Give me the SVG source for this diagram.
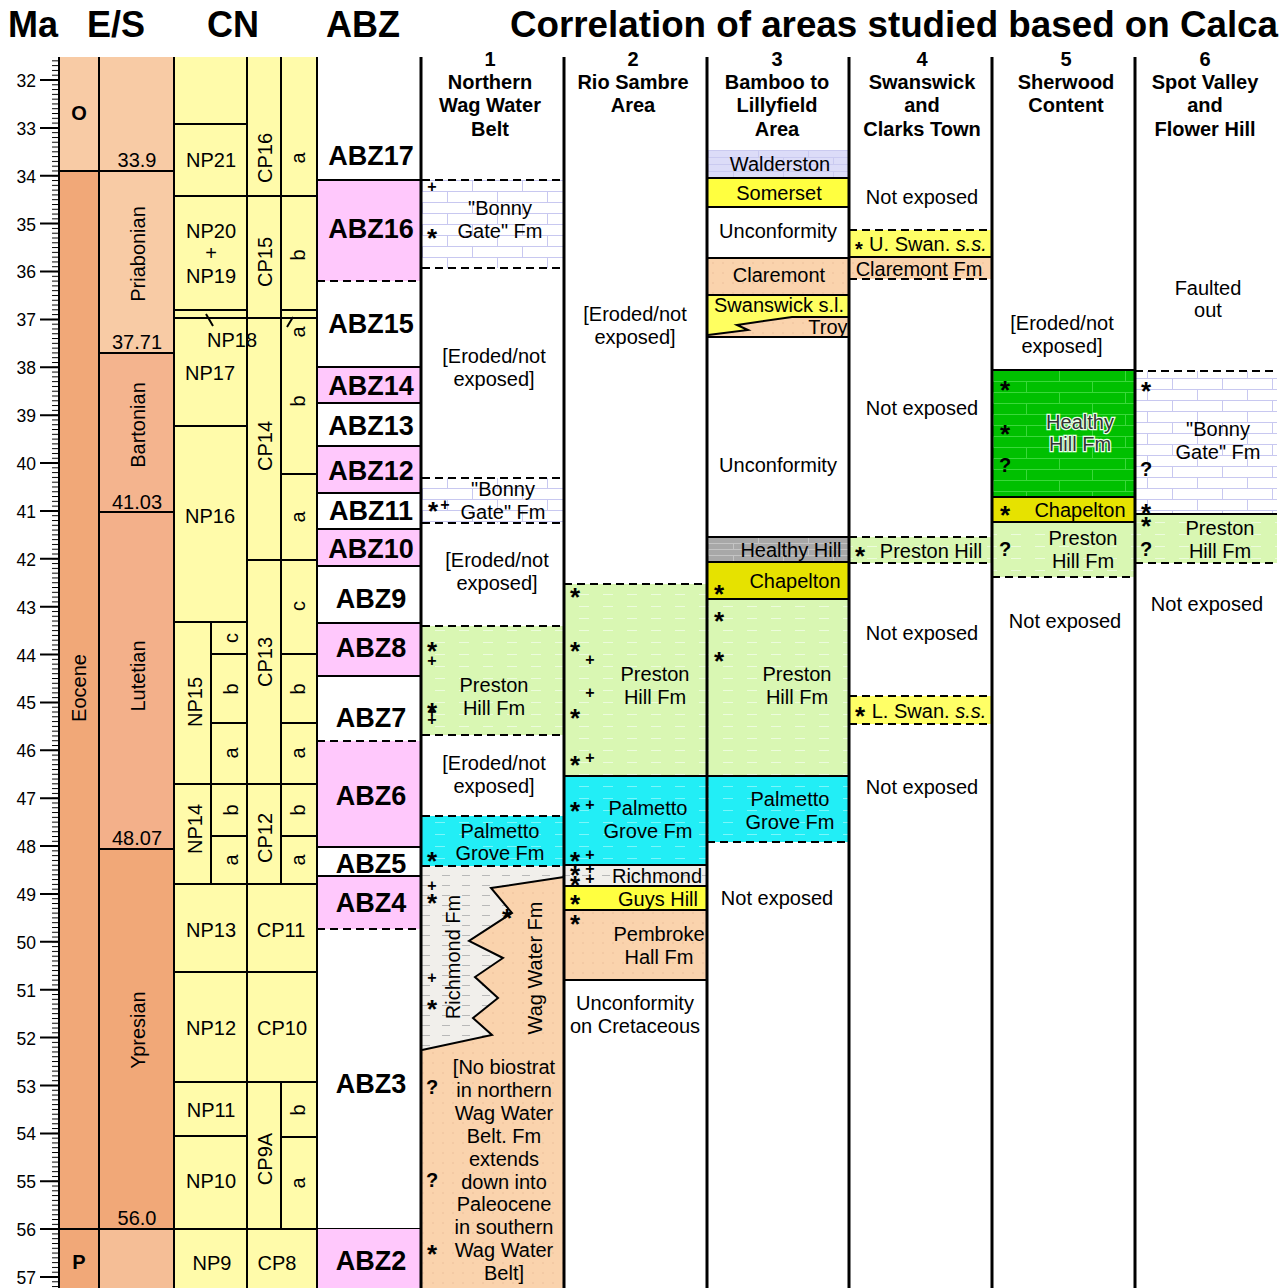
<svg xmlns="http://www.w3.org/2000/svg" width="1288" height="1288" viewBox="0 0 1288 1288">
<style>
.t{font-family:"Liberation Sans",Arial,sans-serif;font-size:20px;text-anchor:middle;fill:#000}
.b{font-weight:bold}
.h{font-family:"Liberation Sans",Arial,sans-serif;font-size:36px;font-weight:bold;fill:#000}
.abz{font-family:"Liberation Sans",Arial,sans-serif;font-size:27px;font-weight:bold;text-anchor:middle;fill:#000}
.ax{font-family:"Liberation Sans",Arial,sans-serif;font-size:17.5px;text-anchor:end;fill:#000}
.sym{font-family:"Liberation Sans",Arial,sans-serif;font-weight:bold;text-anchor:middle;fill:#000}
.s{font-size:26px}
.p{font-size:16px}
.q{font-size:20px}
.ln{stroke:#000;stroke-width:2;fill:none}
.dl{stroke:#000;stroke-width:2;stroke-dasharray:8 5;fill:none}
.cl{stroke:#000;stroke-width:3;fill:none}
.hh{paint-order:stroke;stroke:#e8ffe8;stroke-width:2.5px;fill:#333}
</style>
<defs>
<pattern id="tk" x="52" y="79.5" width="7" height="4.788" patternUnits="userSpaceOnUse"><rect x="0" y="0" width="7" height="1" fill="#000"/></pattern>
<pattern id="brickW" x="422" y="180" width="50" height="22" patternUnits="userSpaceOnUse"><rect width="50" height="22" fill="#fff"/><path d="M0 0.5H50M0 11.5H50M0.5 0V11M25.5 11V22" stroke="#C8C8F0" stroke-width="1"/></pattern>
<pattern id="brickL" x="708" y="150" width="50" height="14" patternUnits="userSpaceOnUse"><rect width="50" height="14" fill="#DCDCF8"/><path d="M0 0.5H50M0 7.5H50M0.5 0V7M25.5 7V14" stroke="#CACAF0" stroke-width="1"/></pattern>
<pattern id="brickG" x="993" y="370" width="66" height="22" patternUnits="userSpaceOnUse"><rect width="66" height="22" fill="#00C000"/><path d="M0 0.5H66M0 11.5H66M0.5 0V11M33.5 11V22" stroke="#3AD83A" stroke-width="1"/></pattern>
<pattern id="brickGr" x="708" y="537" width="50" height="12" patternUnits="userSpaceOnUse"><rect width="50" height="12" fill="#A8A8A8"/><path d="M0 0.5H50M0 6.5H50M0.5 0V6M25.5 6V12" stroke="#C4C4C4" stroke-width="1"/></pattern>
<pattern id="pres" width="24" height="12" patternUnits="userSpaceOnUse"><rect width="24" height="12" fill="#D9F7B3"/><path d="M3 6.5H13" stroke="#ECFCDC" stroke-width="1"/></pattern>
<pattern id="palm" width="24" height="12" patternUnits="userSpaceOnUse"><rect width="24" height="12" fill="#22EEF6"/><path d="M3 6.5H13" stroke="#7AF6FA" stroke-width="1"/></pattern>
<pattern id="rich" width="20" height="10" patternUnits="userSpaceOnUse"><rect width="20" height="10" fill="#F1EFEB"/><path d="M2 5.5H10" stroke="#B8B8B8" stroke-width="1"/></pattern>
<pattern id="peach" width="10" height="10" patternUnits="userSpaceOnUse"><rect width="10" height="10" fill="#FAD3AD"/><circle cx="3" cy="3" r="0.7" fill="#E9B994"/></pattern>
</defs>

<g id="headers">
<text class="h" x="8" y="37">Ma</text>
<text class="h" x="87" y="37">E/S</text>
<text class="h" x="207" y="37">CN</text>
<text class="h" x="326" y="37">ABZ</text>
<text class="h" x="510" y="37" textLength="768" lengthAdjust="spacingAndGlyphs">Correlation of areas studied based on Calca</text>
</g>

<g id="time-axis">
<rect x="52" y="57" width="7" height="1231" fill="url(#tk)"/>
<path class="ln" stroke-width="1.5" d="M40 80H59M40 127.9H59M40 175.8H59M40 223.6H59M40 271.5H59M40 319.4H59M40 367.3H59M40 415.2H59M40 463H59M40 510.9H59M40 558.8H59M40 606.7H59M40 654.6H59M40 702.4H59M40 750.3H59M40 798.2H59M40 846.1H59M40 894H59M40 941.8H59M40 989.7H59M40 1037.6H59M40 1085.5H59M40 1133.4H59M40 1181.2H59M40 1229.1H59M40 1277H59"/>
<text class="ax" x="36" y="87">32</text><text class="ax" x="36" y="135">33</text><text class="ax" x="36" y="183">34</text><text class="ax" x="36" y="231">35</text><text class="ax" x="36" y="278">36</text><text class="ax" x="36" y="326">37</text><text class="ax" x="36" y="374">38</text><text class="ax" x="36" y="422">39</text><text class="ax" x="36" y="470">40</text><text class="ax" x="36" y="518">41</text><text class="ax" x="36" y="566">42</text><text class="ax" x="36" y="614">43</text><text class="ax" x="36" y="662">44</text><text class="ax" x="36" y="709">45</text><text class="ax" x="36" y="757">46</text><text class="ax" x="36" y="805">47</text><text class="ax" x="36" y="853">48</text><text class="ax" x="36" y="901">49</text><text class="ax" x="36" y="949">50</text><text class="ax" x="36" y="997">51</text><text class="ax" x="36" y="1045">52</text><text class="ax" x="36" y="1093">53</text><text class="ax" x="36" y="1140">54</text><text class="ax" x="36" y="1188">55</text><text class="ax" x="36" y="1236">56</text><text class="ax" x="36" y="1284">57</text>
</g>

<g id="epoch-stage">
<rect x="59" y="57" width="40" height="114" fill="#F8CBA5"/>
<rect x="59" y="171" width="40" height="1117" fill="#F1A878"/>
<rect x="99" y="57" width="75" height="296" fill="#F8CBA5"/>
<rect x="99" y="353" width="75" height="159" fill="#F4B48E"/>
<rect x="99" y="512" width="75" height="337" fill="#F3B08A"/>
<rect x="99" y="849" width="75" height="380" fill="#F1A878"/>
<rect x="99" y="1229" width="75" height="59" fill="#F5BE96"/>
<path class="ln" d="M59 57V1288M99 57V1288M174 57V1288M59 171H174M99 353H174M99 512H174M99 849H174M59 1229H421"/>
<text class="t b" x="79" y="120">O</text>
<text class="t b" x="79" y="1269">P</text>
<text class="t" transform="translate(86,688) rotate(-90)">Eocene</text>
<text class="t" x="137" y="167">33.9</text>
<text class="t" x="137" y="349">37.71</text>
<text class="t" x="137" y="509">41.03</text>
<text class="t" x="137" y="845">48.07</text>
<text class="t" x="137" y="1225">56.0</text>
<text class="t" transform="translate(145,254) rotate(-90)">Priabonian</text>
<text class="t" transform="translate(145,425) rotate(-90)">Bartonian</text>
<text class="t" transform="translate(145,676) rotate(-90)">Lutetian</text>
<text class="t" transform="translate(145,1030) rotate(-90)">Ypresian</text>
</g>

<g id="cn-zones">
<rect x="174" y="57" width="143" height="1231" fill="#FFFBAA"/>
<path class="ln" d="M174 57V1288M247 57V1288M281 57V884M281 1082V1229M317 57V1288M211 622V884"/>
<path class="ln" d="M174 124H247M174 196H317M174 310H247M174 318H317M281 310H317M174 426H247M174 622H247M247 560H317M281 474H317M211 654H247M281 654H317M211 723H247M281 723H317M174 784H317M211 836H247M281 836H317M174 884H317M174 972H317M174 1082H317M174 1136H247M281 1137H317M174 1229H317"/>
<path class="ln" stroke-width="1.5" d="M206 314L213 326M293 317L287 327"/>
<text class="t" x="211" y="167">NP21</text>
<text class="t" x="211" y="238">NP20</text>
<text class="t" x="211" y="260">+</text>
<text class="t" x="211" y="283">NP19</text>
<text class="t" x="232" y="347">NP18</text>
<text class="t" x="210" y="380">NP17</text>
<text class="t" x="210" y="523">NP16</text>
<text class="t" transform="translate(202,702) rotate(-90)">NP15</text>
<text class="t" transform="translate(202,829) rotate(-90)">NP14</text>
<text class="t" x="211" y="937">NP13</text>
<text class="t" x="211" y="1035">NP12</text>
<text class="t" x="211" y="1117">NP11</text>
<text class="t" x="211" y="1188">NP10</text>
<text class="t" x="212" y="1270">NP9</text>
<text class="t" transform="translate(238,638) rotate(-90)">c</text>
<text class="t" transform="translate(238,689) rotate(-90)">b</text>
<text class="t" transform="translate(238,753) rotate(-90)">a</text>
<text class="t" transform="translate(238,810) rotate(-90)">b</text>
<text class="t" transform="translate(238,860) rotate(-90)">a</text>
<text class="t" transform="translate(272,158) rotate(-90)">CP16</text>
<text class="t" transform="translate(272,262) rotate(-90)">CP15</text>
<text class="t" transform="translate(272,446) rotate(-90)">CP14</text>
<text class="t" transform="translate(272,662) rotate(-90)">CP13</text>
<text class="t" transform="translate(272,838) rotate(-90)">CP12</text>
<text class="t" transform="translate(272,1159) rotate(-90)">CP9A</text>
<text class="t" x="281" y="937">CP11</text>
<text class="t" x="282" y="1035">CP10</text>
<text class="t" x="277" y="1270">CP8</text>
<text class="t" transform="translate(305,158) rotate(-90)">a</text>
<text class="t" transform="translate(305,255) rotate(-90)">b</text>
<text class="t" transform="translate(305,332) rotate(-90)">a</text>
<text class="t" transform="translate(305,401) rotate(-90)">b</text>
<text class="t" transform="translate(305,517) rotate(-90)">a</text>
<text class="t" transform="translate(305,606) rotate(-90)">c</text>
<text class="t" transform="translate(305,689) rotate(-90)">b</text>
<text class="t" transform="translate(305,753) rotate(-90)">a</text>
<text class="t" transform="translate(305,810) rotate(-90)">b</text>
<text class="t" transform="translate(305,860) rotate(-90)">a</text>
<text class="t" transform="translate(305,1110) rotate(-90)">b</text>
<text class="t" transform="translate(305,1183) rotate(-90)">a</text>
</g>

<g id="abz-zones">
<rect x="318" y="180" width="103" height="101" fill="#FFC8FC"/>
<rect x="318" y="367" width="103" height="36" fill="#FFC8FC"/>
<rect x="318" y="446" width="103" height="47" fill="#FFC8FC"/>
<rect x="318" y="529" width="103" height="37" fill="#FFC8FC"/>
<rect x="318" y="623" width="103" height="53" fill="#FFC8FC"/>
<rect x="318" y="741" width="103" height="106" fill="#FFC8FC"/>
<rect x="318" y="876" width="103" height="53" fill="#FFC8FC"/>
<rect x="318" y="1229" width="103" height="59" fill="#FFC8FC"/>
<path class="ln" d="M317 180H421M317 367H421M317 403H421M317 446H421M317 493H421M317 529H421M317 566H421M317 623H421M317 676H421M317 847H421M317 876H421"/>
<path class="dl" d="M317 281H421M317 741H421M317 929H421"/>
<text class="abz" x="371" y="165">ABZ17</text>
<text class="abz" x="371" y="238">ABZ16</text>
<text class="abz" x="371" y="333">ABZ15</text>
<text class="abz" x="371" y="395">ABZ14</text>
<text class="abz" x="371" y="435">ABZ13</text>
<text class="abz" x="371" y="480">ABZ12</text>
<text class="abz" x="371" y="520">ABZ11</text>
<text class="abz" x="371" y="558">ABZ10</text>
<text class="abz" x="371" y="608">ABZ9</text>
<text class="abz" x="371" y="657">ABZ8</text>
<text class="abz" x="371" y="727">ABZ7</text>
<text class="abz" x="371" y="805">ABZ6</text>
<text class="abz" x="371" y="873">ABZ5</text>
<text class="abz" x="371" y="912">ABZ4</text>
<text class="abz" x="371" y="1093">ABZ3</text>
<text class="abz" x="371" y="1270">ABZ2</text>
</g>

<g id="area1">
<rect x="422" y="180" width="142" height="88" fill="url(#brickW)"/>
<rect x="422" y="478" width="142" height="45" fill="url(#brickW)"/>
<rect x="422" y="626" width="142" height="109" fill="url(#pres)"/>
<rect x="422" y="816" width="142" height="50" fill="url(#palm)"/>
<rect x="422" y="866" width="142" height="184" fill="url(#rich)"/>
<polygon points="564,877 491,888 512,913 469,941 503,958 475,977 498,998 473,1018 492,1035 422,1050 422,1288 564,1288" fill="url(#peach)"/>
<polyline class="ln" stroke-width="1.5" points="564,877 491,888 512,913 469,941 503,958 475,977 498,998 473,1018 492,1035 422,1050"/>
<path class="dl" d="M422 180H564M422 268H564M422 478H564M422 523H564M422 626H564M422 735H564M422 816H564M422 866H564"/>
<text class="t b" x="490" y="66">1</text>
<text class="t b" x="490" y="89">Northern</text>
<text class="t b" x="490" y="112">Wag Water</text>
<text class="t b" x="490" y="136">Belt</text>
<text class="t" x="500" y="215">"Bonny</text>
<text class="t" x="500" y="238">Gate" Fm</text>
<text class="t" x="494" y="363">[Eroded/not</text>
<text class="t" x="494" y="386">exposed]</text>
<text class="t" x="503" y="496">"Bonny</text>
<text class="t" x="503" y="519">Gate" Fm</text>
<text class="t" x="497" y="567">[Eroded/not</text>
<text class="t" x="497" y="590">exposed]</text>
<text class="t" x="494" y="692">Preston</text>
<text class="t" x="494" y="715">Hill Fm</text>
<text class="t" x="494" y="770">[Eroded/not</text>
<text class="t" x="494" y="793">exposed]</text>
<text class="t" x="500" y="838">Palmetto</text>
<text class="t" x="500" y="860">Grove Fm</text>
<text class="t" transform="translate(460,957) rotate(-90)">Richmond Fm</text>
<text class="t" transform="translate(542,968) rotate(-90)">Wag Water Fm</text>
<text class="t" x="504" y="1074">[No biostrat</text>
<text class="t" x="504" y="1097">in northern</text>
<text class="t" x="504" y="1120">Wag Water</text>
<text class="t" x="504" y="1143">Belt. Fm</text>
<text class="t" x="504" y="1166">extends</text>
<text class="t" x="504" y="1189">down into</text>
<text class="t" x="504" y="1211">Paleocene</text>
<text class="t" x="504" y="1234">in southern</text>
<text class="t" x="504" y="1257">Wag Water</text>
<text class="t" x="504" y="1280">Belt]</text>
<text class="sym"><tspan class="p" x="432" y="192">+</tspan><tspan class="s" x="432" y="247">*</tspan><tspan class="s" x="433" y="520">*</tspan><tspan class="p" x="445" y="510">+</tspan><tspan class="s" x="432" y="660">*</tspan><tspan class="p" x="432" y="666">+</tspan><tspan class="s" x="432" y="721">*</tspan><tspan class="p" x="432" y="717">+</tspan><tspan class="p" x="432" y="725">+</tspan><tspan class="s" x="432" y="870">*</tspan><tspan class="p" x="432" y="891">+</tspan><tspan class="s" x="432" y="912">*</tspan><tspan class="s" x="507" y="927">*</tspan><tspan class="p" x="432" y="983">+</tspan><tspan class="s" x="432" y="1018">*</tspan><tspan class="q" x="432" y="1094">?</tspan><tspan class="q" x="432" y="1187">?</tspan><tspan class="s" x="432" y="1263">*</tspan></text>
</g>

<g id="area2">
<rect x="565" y="584" width="142" height="192" fill="url(#pres)"/>
<rect x="565" y="776" width="142" height="89" fill="url(#palm)"/>
<rect x="565" y="865" width="142" height="21" fill="url(#rich)"/>
<rect x="565" y="886" width="142" height="24" fill="#FFFF40"/>
<rect x="565" y="910" width="142" height="70" fill="url(#peach)"/>
<path class="dl" d="M564 584H707"/>
<path class="ln" d="M564 776H707M564 865H707M564 886H707M564 910H707M564 980H707"/>
<text class="t b" x="633" y="66">2</text>
<text class="t b" x="633" y="89">Rio Sambre</text>
<text class="t b" x="633" y="112">Area</text>
<text class="t" x="635" y="321">[Eroded/not</text>
<text class="t" x="635" y="344">exposed]</text>
<text class="t" x="655" y="681">Preston</text>
<text class="t" x="655" y="704">Hill Fm</text>
<text class="t" x="648" y="815">Palmetto</text>
<text class="t" x="648" y="838">Grove Fm</text>
<text class="t" x="657" y="883">Richmond</text>
<text class="t" x="658" y="906">Guys Hill</text>
<text class="t" x="659" y="941">Pembroke</text>
<text class="t" x="659" y="964">Hall Fm</text>
<text class="t" x="635" y="1010">Unconformity</text>
<text class="t" x="635" y="1033">on Cretaceous</text>
<text class="sym"><tspan class="s" x="575" y="606">*</tspan><tspan class="s" x="575" y="660">*</tspan><tspan class="p" x="590" y="665">+</tspan><tspan class="p" x="590" y="698">+</tspan><tspan class="s" x="575" y="727">*</tspan><tspan class="s" x="575" y="774">*</tspan><tspan class="p" x="590" y="763">+</tspan><tspan class="s" x="575" y="820">*</tspan><tspan class="p" x="590" y="810">+</tspan><tspan class="s" x="575" y="870">*</tspan><tspan class="p" x="590" y="860">+</tspan><tspan class="s" x="575" y="884">*</tspan><tspan class="s" x="575" y="894">*</tspan><tspan class="p" x="590" y="874">+</tspan><tspan class="p" x="590" y="884">+</tspan><tspan class="s" x="575" y="913">*</tspan><tspan class="s" x="575" y="933">*</tspan></text>
</g>

<g id="area3">
<rect x="708" y="150" width="141" height="28" fill="url(#brickL)"/>
<rect x="708" y="178" width="141" height="29" fill="#FFFF40"/>
<rect x="708" y="258" width="141" height="37" fill="url(#peach)"/>
<rect x="708" y="295" width="141" height="42" fill="#FFFF60"/>
<polygon points="708,335 748,330 737,325 792,317 849,317 849,337 708,337" fill="url(#peach)"/>
<polyline class="ln" stroke-width="1.5" points="708,335 748,330 737,325 792,317 849,317"/>
<rect x="708" y="537" width="141" height="25" fill="url(#brickGr)"/>
<rect x="708" y="562" width="141" height="37" fill="#E6E200"/>
<rect x="708" y="599" width="141" height="177" fill="url(#pres)"/>
<rect x="708" y="776" width="141" height="66" fill="url(#palm)"/>
<path class="ln" d="M707 178H849M707 207H849M707 258H849M707 295H849M707 337H849M707 537H849M707 562H849M707 599H849M707 776H849"/>
<path class="dl" d="M707 842H849"/>
<text class="t b" x="777" y="66">3</text>
<text class="t b" x="777" y="89">Bamboo to</text>
<text class="t b" x="777" y="112">Lillyfield</text>
<text class="t b" x="777" y="136">Area</text>
<text class="t" x="780" y="171">Walderston</text>
<text class="t" x="779" y="200">Somerset</text>
<text class="t" x="778" y="238">Unconformity</text>
<text class="t" x="779" y="282">Claremont</text>
<text class="t" x="779" y="312">Swanswick s.l.</text>
<text class="t" x="828" y="334">Troy</text>
<text class="t" x="778" y="472">Unconformity</text>
<text class="t" x="791" y="557">Healthy Hill</text>
<text class="t" x="795" y="588">Chapelton</text>
<text class="t" x="797" y="681">Preston</text>
<text class="t" x="797" y="704">Hill Fm</text>
<text class="t" x="790" y="806">Palmetto</text>
<text class="t" x="790" y="829">Grove Fm</text>
<text class="t" x="777" y="905">Not exposed</text>
<text class="sym"><tspan class="s" x="719" y="603">*</tspan><tspan class="s" x="719" y="630">*</tspan><tspan class="s" x="719" y="670">*</tspan></text>
</g>

<g id="area4">
<rect x="850" y="230" width="142" height="27" fill="#FFFF66"/>
<rect x="850" y="257" width="142" height="22" fill="url(#peach)"/>
<rect x="850" y="537" width="142" height="26" fill="url(#pres)"/>
<rect x="850" y="696" width="142" height="28" fill="#FFFF66"/>
<path class="dl" d="M849 230H992M849 279H992M849 537H992M849 563H992M849 696H992M849 724H992"/>
<path class="ln" d="M849 257H992"/>
<text class="t b" x="922" y="66">4</text>
<text class="t b" x="922" y="89">Swanswick</text>
<text class="t b" x="922" y="112">and</text>
<text class="t b" x="922" y="136">Clarks Town</text>
<text class="t" x="922" y="204">Not exposed</text>
<text class="t" x="928" y="251">U. Swan. <tspan font-style="italic">s.s.</tspan></text>
<text class="t" x="919" y="276">Claremont Fm</text>
<text class="t" x="922" y="415">Not exposed</text>
<text class="t" x="931" y="558">Preston Hill</text>
<text class="t" x="922" y="640">Not exposed</text>
<text class="t" x="929" y="718">L. Swan. <tspan font-style="italic">s.s.</tspan></text>
<text class="t" x="922" y="794">Not exposed</text>
<text class="sym"><tspan class="q" x="859" y="256">*</tspan><tspan class="s" x="860" y="565">*</tspan><tspan class="s" x="860" y="725">*</tspan></text>
</g>

<g id="area5">
<rect x="993" y="370" width="142" height="127" fill="url(#brickG)"/>
<rect x="993" y="497" width="142" height="25" fill="#E6E200"/>
<rect x="993" y="522" width="142" height="55" fill="url(#pres)"/>
<path class="ln" d="M992 370H1135M992 497H1135M992 522H1135"/>
<path class="dl" d="M992 577H1135"/>
<text class="t b" x="1066" y="66">5</text>
<text class="t b" x="1066" y="89">Sherwood</text>
<text class="t b" x="1066" y="112">Content</text>
<text class="t" x="1062" y="330">[Eroded/not</text>
<text class="t" x="1062" y="353">exposed]</text>
<text class="t hh" x="1080" y="429">Healthy</text>
<text class="t hh" x="1080" y="451">Hill Fm</text>
<text class="t" x="1080" y="517">Chapelton</text>
<text class="t" x="1083" y="545">Preston</text>
<text class="t" x="1083" y="568">Hill Fm</text>
<text class="t" x="1065" y="628">Not exposed</text>
<text class="sym"><tspan class="s" x="1005" y="399">*</tspan><tspan class="s" x="1005" y="443">*</tspan><tspan class="q" x="1005" y="472">?</tspan><tspan class="s" x="1005" y="524">*</tspan><tspan class="q" x="1005" y="556">?</tspan></text>
</g>

<g id="area6">
<rect x="1136" y="371" width="141" height="143" fill="url(#brickW)"/>
<rect x="1136" y="514" width="141" height="49" fill="url(#pres)"/>
<path class="dl" d="M1135 371H1277M1135 563H1277"/>
<path class="ln" d="M1135 514H1277"/>
<text class="t b" x="1205" y="66">6</text>
<text class="t b" x="1205" y="89">Spot Valley</text>
<text class="t b" x="1205" y="112">and</text>
<text class="t b" x="1205" y="136">Flower Hill</text>
<text class="t" x="1208" y="295">Faulted</text>
<text class="t" x="1208" y="317">out</text>
<text class="t" x="1218" y="436">"Bonny</text>
<text class="t" x="1218" y="459">Gate" Fm</text>
<text class="t" x="1220" y="535">Preston</text>
<text class="t" x="1220" y="558">Hill Fm</text>
<text class="t" x="1207" y="611">Not exposed</text>
<text class="sym"><tspan class="s" x="1146" y="400">*</tspan><tspan class="q" x="1146" y="476">?</tspan><tspan class="s" x="1146" y="522">*</tspan><tspan class="s" x="1146" y="535">*</tspan><tspan class="q" x="1146" y="556">?</tspan></text>
</g>

<g id="column-lines">
<path class="cl" d="M421 57V1288M564 57V1288M707 57V1288M849 57V1288M992 57V1288M1135 57V1288"/>
</g>
</svg>
